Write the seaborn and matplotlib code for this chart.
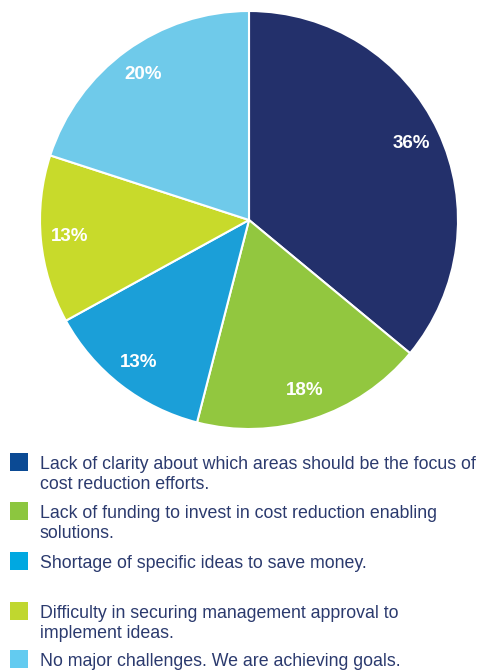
import matplotlib
matplotlib.use("Agg")
import matplotlib.pyplot as plt
import seaborn as sns
import numpy as np

sns.set_theme(style="white")
plt.rcParams['font.family'] = ['Liberation Sans', 'DejaVu Sans']

categories = [
    "Lack of clarity about which areas should be the focus of\ncost reduction efforts.",
    "Lack of funding to invest in cost reduction enabling\nsolutions.",
    "Shortage of specific ideas to save money.",
    "Difficulty in securing management approval to\nimplement ideas.",
    "No major challenges. We are achieving goals.",
]
values = [36, 18, 13, 13, 20]
pie_colors = ["#23306b", "#92c73f", "#1b9fd8", "#c8da2b", "#6fcaea"]
legend_colors = ["#0b4a94", "#8cc63f", "#00a8e1", "#c0d72f", "#63cbf0"]
legend_y = [462, 511, 561, 611, 659]  # pixel centers of legend squares

W, H = 479, 670
fig = plt.figure(figsize=(W / 100, H / 100), dpi=100)

cx, cy, r = 249, 220, 209
ax = fig.add_axes([(cx - r) / W, (H - cy - r) / H, 2 * r / W, 2 * r / H])
wedges, texts, autotexts = ax.pie(
    values, colors=pie_colors, startangle=90, counterclock=False,
    autopct=lambda p: f"{p:.0f}%", pctdistance=0.86,
    wedgeprops=dict(edgecolor="white", linewidth=1.5),
    textprops=dict(color="white", fontsize=13.5, fontweight="bold"),
)
ax.set_xlim(-1, 1)
ax.set_ylim(-1, 1)
ax.axis("off")

text_color = "#2b3a6e"
for cat, col, yc in zip(categories, legend_colors, legend_y):
    sq = 18
    fig.patches.append(plt.Rectangle((10 / W, (H - yc - sq / 2) / H), sq / W, sq / H,
                                     transform=fig.transFigure, facecolor=col,
                                     edgecolor="none"))
    for i, line in enumerate(cat.split("\n")):
        base = yc + 7 + 20 * i
        fig.text(40 / W, (H - base) / H, line, color=text_color, fontsize=12.8,
                 va="baseline", ha="left")

fig.savefig("out.png", dpi=100)
